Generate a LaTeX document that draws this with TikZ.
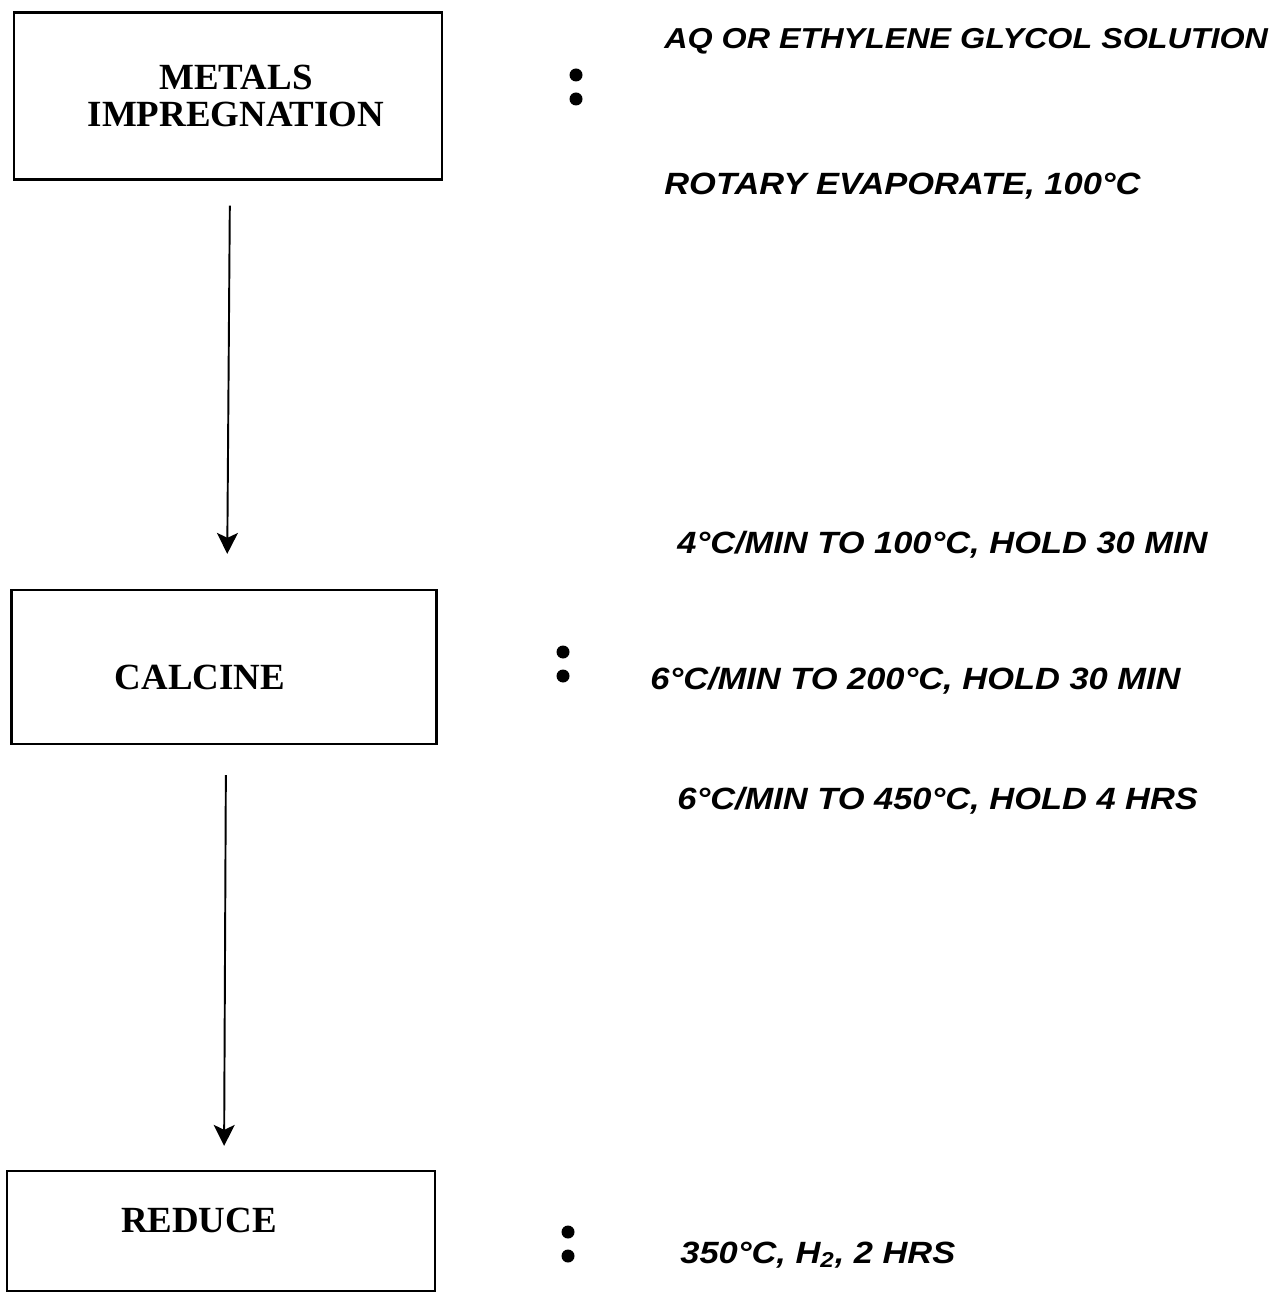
\documentclass[tikz,border=0pt]{standalone}
\usepackage{fontspec}
\setmainfont{Liberation Serif}
\newfontfamily\condfont[FakeStretch=1.12]{Liberation Sans}
\usetikzlibrary{arrows.meta}
\usetikzlibrary{positioning}

\tikzset{
  stage/.style={draw, line width=1.3pt, minimum width=8.56cm, align=center,
    font=\fontsize{21}{21.5}\selectfont\bfseries},
  cond/.style={anchor=base west, inner sep=0pt,
    font=\condfont\bfseries\itshape\fontsize{17.5}{20}\selectfont},
  flow/.style={line width=1.1pt, -{Stealth[length=0.42cm,width=0.42cm,inset=0.1cm]}},
}

\begin{document}
\begin{tikzpicture}[x=0.02cm, y=-0.02cm]
\useasboundingbox (0,0) rectangle (1273,1293);

% Process steps
\node[stage, minimum height=3.34cm] (metals) at (228,96)
  {\hspace*{0.32cm}METALS\\\hspace*{0.32cm}IMPREGNATION};
\node[stage, minimum height=3.08cm, minimum width=8.5cm, text height=0.89cm, text depth=0cm]
  (calcine) at (224,667) {CALCINE\hspace*{0.96cm}};
\node[stage, minimum height=2.4cm] (reduce) at (221,1231)
  {\raisebox{0.44cm}{REDUCE\hspace*{0.88cm}}};

% Flow between the steps
\draw[flow, shorten <=0.5cm, shorten >=0.7cm]
  ([xshift=0.04cm]metals.south) -- ([xshift=0.06cm]calcine.north);
\draw[flow, shorten <=0.6cm, shorten >=0.48cm]
  ([xshift=0.04cm]calcine.south) -- ([xshift=0.06cm]reduce.north);

% Colons
\foreach \x/\y in {576/87, 563/664, 568/1244} {
  \fill (\x,\y-12) circle (0.13cm);
  \fill (\x,\y+12) circle (0.13cm);
}

% Conditions of each step
\node[cond, font=\condfont\bfseries\itshape\fontsize{16.4}{20}\selectfont] (solution)
  at (664,49) {AQ OR ETHYLENE GLYCOL SOLUTION};
\node[cond] (evap) at (664,195) {ROTARY EVAPORATE, 100°C};
\node[cond] (ramp1) at (677,553) {4°C/MIN TO 100°C, HOLD 30 MIN};
\node[cond] (ramp2) at (650,689) {6°C/MIN TO 200°C, HOLD 30 MIN};
\node[cond] (ramp3) at (677,809) {6°C/MIN TO 450°C, HOLD 4 HRS};
\node[cond] (hydro) at (680,1263) {350°C, H\textsubscript{2}, 2 HRS};
\end{tikzpicture}
\end{document}
